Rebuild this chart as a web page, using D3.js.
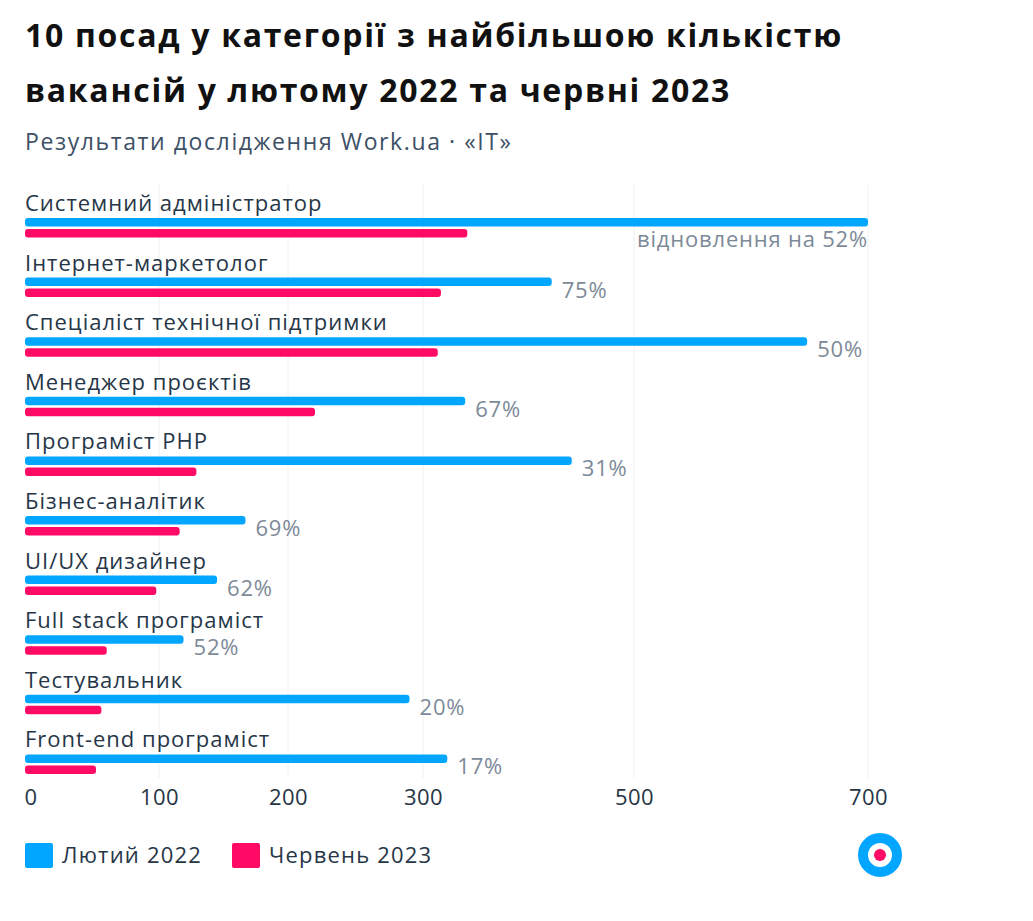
<!DOCTYPE html>
<html><head><meta charset="utf-8">
<script src="https://cdn.jsdelivr.net/npm/d3@7"></script>
<style>
html,body{margin:0;padding:0;background:#fff;}
svg text{font-family:"Open Sans",sans-serif;}
</style></head>
<body><div id="chart"></div>
<script>
const categories = ["Системний адміністратор","Інтернет-маркетолог","Спеціаліст технічної підтримки","Менеджер проєктів","Програміст PHP","Бізнес-аналітик","UI/UX дизайнер","Full stack програміст","Тестувальник","Front-end програміст"];
const feb2022 = [700, 422, 648, 340, 441, 167, 145, 119, 290, 323];
const jun2023 = [342, 317, 314, 220, 129, 116, 98, 61, 57, 53];
const valueLabels = ["відновлення на 52%","75%","50%","67%","31%","69%","62%","52%","20%","17%"];
const tickValues = [0, 100, 200, 300, 500, 700];
const seriesNames = ["Лютий 2022","Червень 2023"];
const colors = ["#00a6ff","#ff0a65"];
const title1 = "10 посад у категорії з найбільшою кількістю";
const title2 = "вакансій у лютому 2022 та червні 2023";
const subtitle = "Результати дослідження Work.ua · «IT»";

const W = 1033, H = 921;
const svg = d3.select("#chart").append("svg").attr("width", W).attr("height", H);

[title1, title2].forEach((t, i) => {
  svg.append("text").attr("x", 25).attr("y", 47 + i * 55).text(t)
    .attr("font-size", 32).attr("font-weight", 700).attr("letter-spacing", 1.7).attr("fill", "#111");
});
svg.append("text").attr("x", 25).attr("y", 150).text(subtitle)
  .attr("font-size", 23).attr("letter-spacing", 1.6).attr("fill", "#3d5066");

// x scale: piecewise linear to follow the reference's tick spacing
const x = d3.scaleLinear().domain(tickValues).range([25, 159, 288, 423, 634, 868]);
const y = d3.scaleBand().domain(categories).range([188, 188 + 59.6 * categories.length]).paddingInner(0);

// gridlines
svg.append("g").selectAll("line").data(tickValues.slice(1)).join("line")
  .attr("x1", d => x(d)).attr("x2", d => x(d))
  .attr("y1", 185).attr("y2", 778)
  .attr("stroke", "#edf0f3").attr("stroke-width", 1);

const rows = svg.append("g").selectAll("g").data(categories).join("g")
  .attr("transform", d => `translate(0,${y(d)})`);

rows.append("text").attr("x", 25).attr("y", 23).text(d => d)
  .attr("font-size", 22).attr("letter-spacing", 1).attr("fill", "#263647");

const barH = 8.5;
rows.append("rect").attr("x", x(0)).attr("y", 30)
  .attr("width", (d, i) => x(feb2022[i]) - x(0)).attr("height", barH)
  .attr("rx", 3).attr("fill", colors[0]);
rows.append("rect").attr("x", x(0)).attr("y", 41)
  .attr("width", (d, i) => x(jun2023[i]) - x(0)).attr("height", barH)
  .attr("rx", 3).attr("fill", colors[1]);

const limit = 870;
rows.append("text").text((d, i) => valueLabels[i])
  .attr("font-size", 22).attr("letter-spacing", 0.8).attr("font-weight", 500).attr("fill", "#7d8a98")
  .each(function (d, i) {
    const t = d3.select(this);
    const end = x(feb2022[i]);
    const w = this.getComputedTextLength();
    if (end + 10 + w > limit) {
      t.attr("x", end).attr("y", 59).attr("text-anchor", "end");
    } else {
      t.attr("x", end + 10).attr("y", 50);
    }
  });

// axis
const axis = d3.axisBottom(x).tickValues(tickValues).tickSize(0).tickPadding(0).tickFormat(d3.format("d"));
const ax = svg.append("g").attr("transform", "translate(0,789)").call(axis);
ax.select(".domain").remove();
ax.selectAll("text").attr("font-size", 22).attr("letter-spacing", 0.5).attr("fill", "#263647")
  .attr("font-family", "Open Sans, sans-serif").attr("dy", "0.71em");
ax.selectAll(".tick").filter(d => d === 0).select("text").attr("text-anchor", "start").attr("x", -1);

// legend
const legend = svg.append("g").attr("transform", "translate(25,843)");
const lx = [0, 207];
seriesNames.forEach((n, i) => {
  const g = legend.append("g").attr("transform", `translate(${lx[i]},0)`);
  g.append("rect").attr("width", 28).attr("height", 25).attr("rx", 2).attr("fill", colors[i]);
  g.append("text").attr("x", 37).attr("y", 20).text(n).attr("font-size", 22).attr("letter-spacing", 1.2).attr("fill", "#263647");
});

// logo
const logo = svg.append("g").attr("transform", "translate(880,855)");
logo.append("circle").attr("r", 17).attr("fill", "#fff").attr("stroke", colors[0]).attr("stroke-width", 10);
logo.append("circle").attr("r", 6).attr("fill", colors[1]);
</script></body></html>
